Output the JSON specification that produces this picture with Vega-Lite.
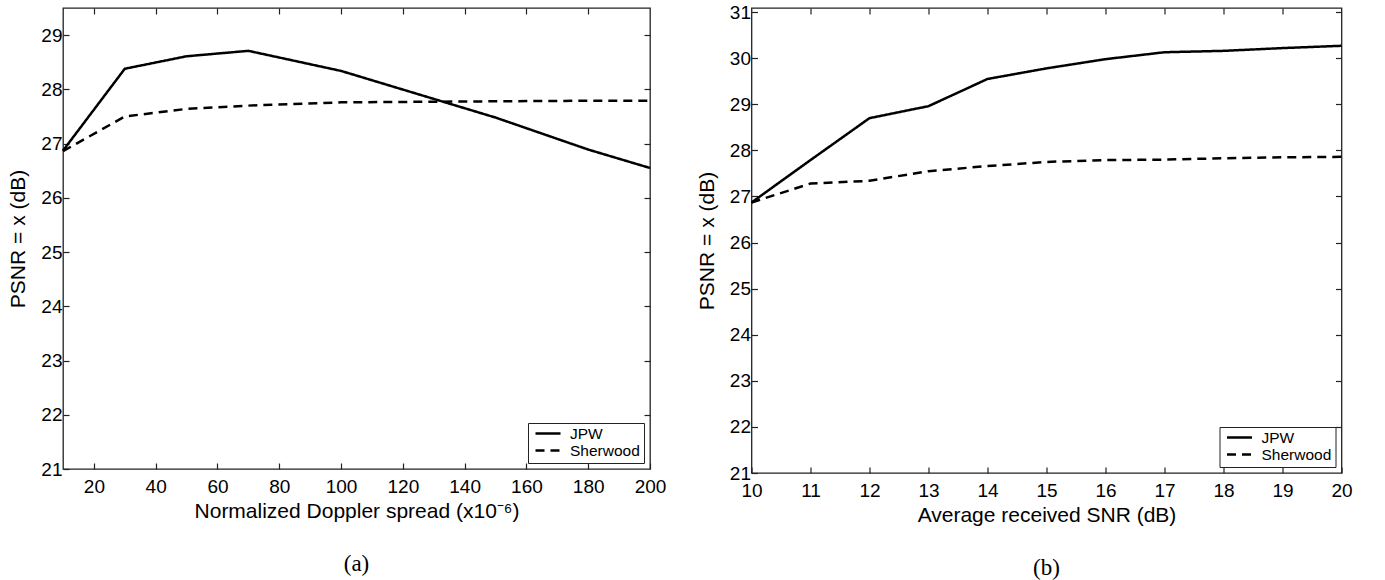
{
  "$schema": "https://vega.github.io/schema/vega-lite/v6.json",
  "background": "white",
  "padding": {"left": 7, "top": 2, "right": 5, "bottom": 5},
  "datasets": {
    "doppler": [
      {"spread": 10, "psnr": 26.87, "method": "JPW"},
      {"spread": 30, "psnr": 28.38, "method": "JPW"},
      {"spread": 50, "psnr": 28.61, "method": "JPW"},
      {"spread": 70, "psnr": 28.71, "method": "JPW"},
      {"spread": 100, "psnr": 28.34, "method": "JPW"},
      {"spread": 150, "psnr": 27.48, "method": "JPW"},
      {"spread": 180, "psnr": 26.89, "method": "JPW"},
      {"spread": 200, "psnr": 26.55, "method": "JPW"},
      {"spread": 10, "psnr": 26.86, "method": "Sherwood"},
      {"spread": 30, "psnr": 27.50, "method": "Sherwood"},
      {"spread": 50, "psnr": 27.64, "method": "Sherwood"},
      {"spread": 70, "psnr": 27.70, "method": "Sherwood"},
      {"spread": 100, "psnr": 27.76, "method": "Sherwood"},
      {"spread": 150, "psnr": 27.78, "method": "Sherwood"},
      {"spread": 180, "psnr": 27.79, "method": "Sherwood"},
      {"spread": 200, "psnr": 27.79, "method": "Sherwood"}
    ],
    "snr": [
      {"snr": 10, "psnr": 26.87, "method": "JPW"},
      {"snr": 11, "psnr": 27.79, "method": "JPW"},
      {"snr": 12, "psnr": 28.70, "method": "JPW"},
      {"snr": 13, "psnr": 28.96, "method": "JPW"},
      {"snr": 14, "psnr": 29.55, "method": "JPW"},
      {"snr": 15, "psnr": 29.78, "method": "JPW"},
      {"snr": 16, "psnr": 29.98, "method": "JPW"},
      {"snr": 17, "psnr": 30.13, "method": "JPW"},
      {"snr": 18, "psnr": 30.16, "method": "JPW"},
      {"snr": 19, "psnr": 30.22, "method": "JPW"},
      {"snr": 20, "psnr": 30.27, "method": "JPW"},
      {"snr": 10, "psnr": 26.87, "method": "Sherwood"},
      {"snr": 11, "psnr": 27.28, "method": "Sherwood"},
      {"snr": 12, "psnr": 27.34, "method": "Sherwood"},
      {"snr": 13, "psnr": 27.55, "method": "Sherwood"},
      {"snr": 14, "psnr": 27.66, "method": "Sherwood"},
      {"snr": 15, "psnr": 27.75, "method": "Sherwood"},
      {"snr": 16, "psnr": 27.79, "method": "Sherwood"},
      {"snr": 17, "psnr": 27.80, "method": "Sherwood"},
      {"snr": 18, "psnr": 27.83, "method": "Sherwood"},
      {"snr": 19, "psnr": 27.85, "method": "Sherwood"},
      {"snr": 20, "psnr": 27.86, "method": "Sherwood"}
    ]
  },
  "config": {
    "view": {"stroke": "#222222", "strokeWidth": 1.3},
    "font": "Liberation Sans",
    "axis": {
      "grid": false,
      "domain": false,
      "tickColor": "#222222",
      "tickWidth": 1.2,
      "tickSize": -6,
      "labelFlush": false,
      "labelFont": "Liberation Sans",
      "labelFontSize": 19,
      "labelColor": "black",
      "titleFont": "Liberation Sans",
      "titleFontSize": 21,
      "titleFontWeight": "normal",
      "titleColor": "black"
    },
    "axisX": {"labelPadding": 14, "titlePadding": 4, "labelFlush": false},
    "axisY": {"labelPadding": 7, "titlePadding": 12},
    "legend": {
      "orient": "bottom-right",
      "offset": 6,
      "title": null,
      "strokeColor": "#222222",
      "fillColor": "white",
      "padding": 4,
      "symbolType": "stroke",
      "symbolSize": 625,
      "symbolStrokeWidth": 2.5,
      "symbolStrokeColor": "black",
      "labelFont": "Liberation Sans",
      "labelFontSize": 15.5,
      "labelColor": "black",
      "clipHeight": 13,
      "rowPadding": 1,
      "labelOffset": 8,
      "symbolOffset": 2
    },
    "title": {
      "font": "Liberation Serif",
      "fontSize": 23,
      "fontWeight": "normal",
      "color": "black",
      "orient": "bottom",
      "frame": "group",
      "anchor": "middle",
      "offset": 32
    }
  },
  "spacing": 28.5,
  "resolve": {"scale": {"strokeDash": "independent"}, "legend": {"strokeDash": "independent"}},
  "hconcat": [
    {
      "width": 587,
      "height": 461,
      "title": {"text": "(a)"},
      "data": {"name": "doppler"},
      "resolve": {"axis": {"x": "independent", "y": "independent"}},
      "layer": [
        {
          "mark": {"type": "line", "strokeWidth": 2.5, "color": "black"},
          "encoding": {
            "x": {"field": "spread", "type": "quantitative",
              "scale": {"domain": [10, 200], "nice": false, "zero": false},
              "axis": {"values": [20, 40, 60, 80, 100, 120, 140, 160, 180, 200], "title": "Normalized Doppler spread (x10⁻⁶)"}},
            "y": {"field": "psnr", "type": "quantitative",
              "scale": {"domain": [21, 29.5], "nice": false, "zero": false},
              "axis": {"values": [21, 22, 23, 24, 25, 26, 27, 28, 29], "title": "PSNR = x (dB)"}},
            "strokeDash": {"field": "method", "type": "nominal",
              "scale": {"domain": ["JPW", "Sherwood"], "range": [[1, 0], [9, 6]]}}
          }
        },
        {
          "mark": {"type": "point", "opacity": 0},
          "encoding": {
            "x": {"field": "spread", "type": "quantitative",
              "axis": {"orient": "top", "labels": false, "title": null, "values": [20, 40, 60, 80, 100, 120, 140, 160, 180]}},
            "y": {"field": "psnr", "type": "quantitative",
              "axis": {"orient": "right", "labels": false, "title": null, "values": [22, 23, 24, 25, 26, 27, 28, 29]}}
          }
        }
      ]
    },
    {
      "width": 590,
      "height": 465,
      "title": {"text": "(b)"},
      "data": {"name": "snr"},
      "resolve": {"axis": {"x": "independent", "y": "independent"}},
      "layer": [
        {
          "mark": {"type": "line", "strokeWidth": 2.5, "color": "black"},
          "encoding": {
            "x": {"field": "snr", "type": "quantitative",
              "scale": {"domain": [10, 20], "nice": false, "zero": false},
              "axis": {"values": [10, 11, 12, 13, 14, 15, 16, 17, 18, 19, 20], "title": "Average received SNR (dB)"}},
            "y": {"field": "psnr", "type": "quantitative",
              "scale": {"domain": [21, 31.09], "nice": false, "zero": false},
              "axis": {"values": [21, 22, 23, 24, 25, 26, 27, 28, 29, 30, 31], "title": "PSNR = x (dB)"}},
            "strokeDash": {"field": "method", "type": "nominal",
              "scale": {"domain": ["JPW", "Sherwood"], "range": [[1, 0], [9, 6]]}}
          }
        },
        {
          "mark": {"type": "point", "opacity": 0},
          "encoding": {
            "x": {"field": "snr", "type": "quantitative",
              "axis": {"orient": "top", "labels": false, "title": null, "values": [11, 12, 13, 14, 15, 16, 17, 18, 19]}},
            "y": {"field": "psnr", "type": "quantitative",
              "axis": {"orient": "right", "labels": false, "title": null, "values": [22, 23, 24, 25, 26, 27, 28, 29, 30, 31]}}
          }
        }
      ]
    }
  ]
}
